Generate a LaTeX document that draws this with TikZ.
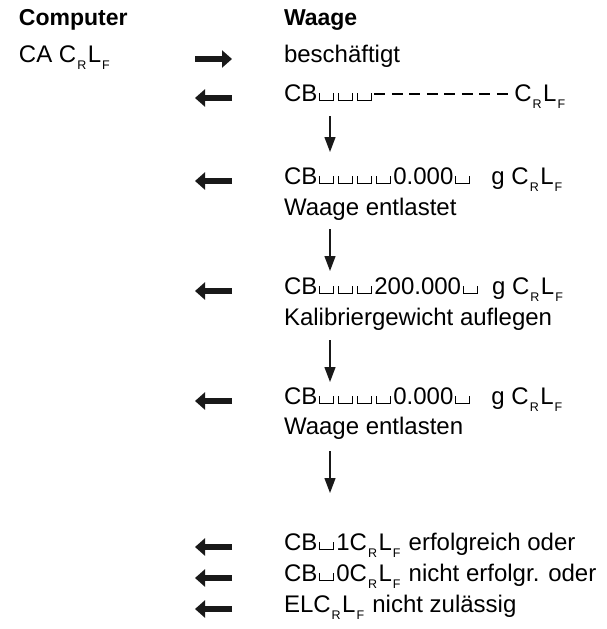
\documentclass[tikz,border=0pt]{standalone}
\usepackage{fontspec}
\setmainfont{Liberation Sans}
\usetikzlibrary{arrows.meta}

% visible blank (open box), dash of the wait display, subscript letters
\newcommand\blk{\kern2pt\rule{1pt}{8pt}\rule{13pt}{1pt}\rule{1pt}{8pt}\kern2pt}
\newcommand\dsh{\rule[6.5pt]{11pt}{1.3pt}\hspace{6.5pt}}
\newcommand\sbs[1]{\kern1pt\raisebox{-7pt}{\fontsize{12.5}{14}\selectfont #1}\kern1.5pt}
\newcommand\crlf{C\sbs{R}L\sbs{F}}

\begin{document}
\begin{tikzpicture}[x=1pt, y=-1pt,
  font=\fontsize{24}{28}\selectfont,
  txt/.style={anchor=base west, inner sep=0pt, outer sep=0pt},
  hdr/.style={txt, font=\fontsize{23}{28}\selectfont\bfseries},
  fat/.style={line width=5.5pt, draw=black!90, -{Triangle[length=10pt,width=17pt]}},
  down/.style={line width=1.3pt, draw=black!90, -{Triangle[length=15pt,width=11pt]}}]
\useasboundingbox (0,0) rectangle (607,629);

% column headings
\node[hdr] (hc) at (19,25) {Computer};
\node[hdr] (hw) at (284,25) {Waage};

% command from the computer
\node[txt] (ca) at (19,62) {CA \crlf};
\node[txt] (busy) at (284,62) {beschäftigt};
\coordinate (s1) at (195,59); \coordinate (e1) at (232,59);
\draw[fat] (s1) -- (e1);

% replies of the balance
\node[txt] (w1) at (284,101) {CB\blk\blk\blk\dsh\dsh\dsh\dsh\dsh\dsh\dsh\dsh\crlf};
\node[txt] (w2) at (284,184) {CB\blk\blk\blk\blk0.000\blk\hspace{19pt}g \crlf};
\node[txt] (w2t) at (284,215) {Waage entlastet};
\node[txt] (w3) at (284,294) {CB\blk\blk\blk200.000\blk\hspace{12pt}g \crlf};
\node[txt] (w3t) at (284,325) {Kalibriergewicht auflegen};
\node[txt] (w4) at (284,404) {CB\blk\blk\blk\blk0.000\blk\hspace{19pt}g \crlf};
\node[txt] (w4t) at (284,434) {Waage entlasten};
\node[txt] (w5) at (284,550) {CB\blk1\crlf{} erfolgreich oder};
\node[txt] (w6) at (284,581) {CB\blk0\crlf{} nicht erfolgr. oder};
\node[txt] (w7) at (284,612) {EL\crlf{} nicht zulässig};

% arrows back to the computer
\foreach \n/\y in {a/98, b/181, c/291, d/401, e/547, f/578, g/609}{
  \coordinate (l\n) at (195,\y); \coordinate (r\n) at (232,\y);
  \draw[fat] (r\n) -- (l\n);
}

% sequence arrows
\foreach \n/\ya/\yb in {p/116/152, q/229/271, r/340/382, s/451/493}{
  \coordinate (t\n) at (330,\ya); \coordinate (u\n) at (330,\yb);
  \draw[down] (t\n) -- (u\n);
}
\end{tikzpicture}
\end{document}
